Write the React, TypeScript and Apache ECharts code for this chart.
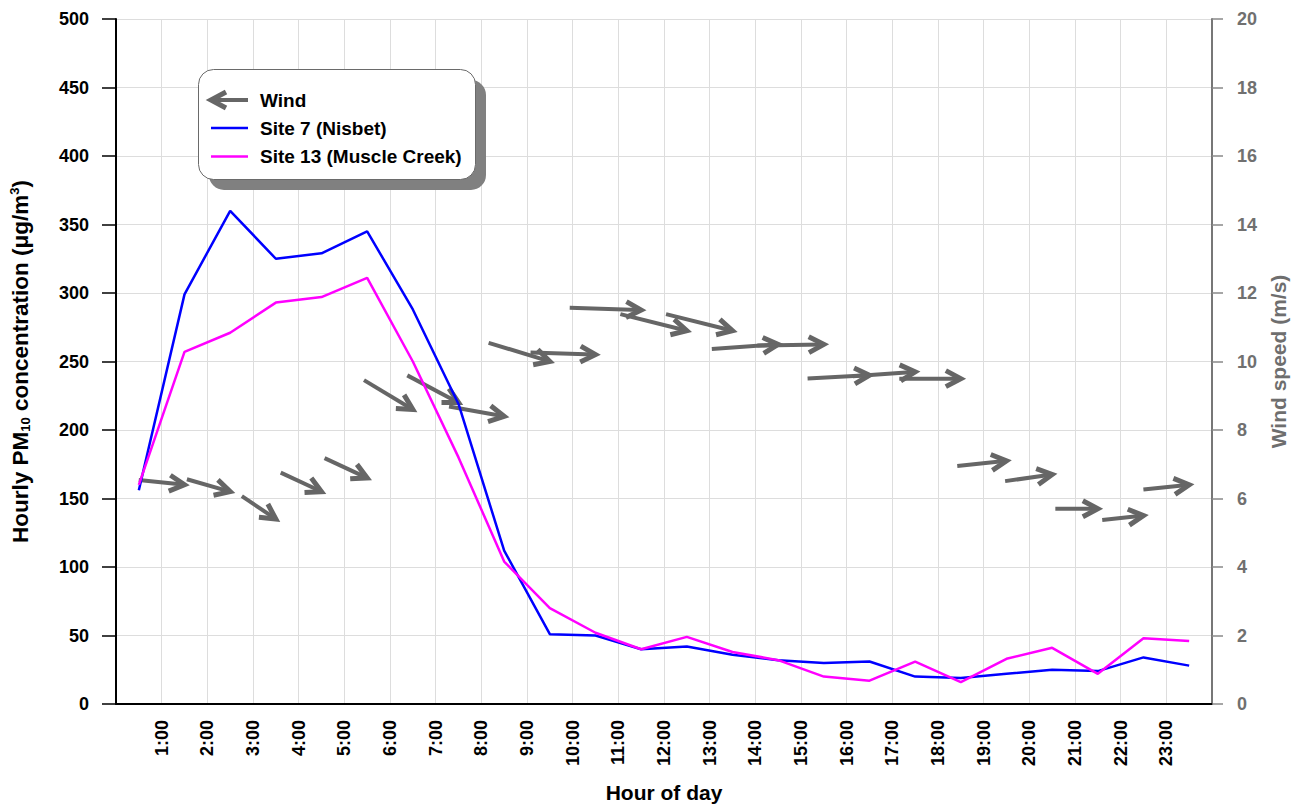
import React, { useEffect, useRef } from "react";
import * as echarts from "echarts";

// Hour positions (mid-hour) for the hourly averages
const hourMid = [
  0.5, 1.5, 2.5, 3.5, 4.5, 5.5, 6.5, 7.5, 8.5, 9.5, 10.5, 11.5,
  12.5, 13.5, 14.5, 15.5, 16.5, 17.5, 18.5, 19.5, 20.5, 21.5, 22.5, 23.5,
];

// Hourly PM10 (µg/m³)
const site7Nisbet = [
  156, 299, 360, 325, 329, 345, 288, 219, 112, 51, 50, 40,
  42, 36, 32, 30, 31, 20, 19, 22, 25, 24, 34, 28,
];
const site13MuscleCreek = [
  160, 257, 271, 293, 297, 311, 250, 180, 104, 70, 52, 40,
  49, 38, 32, 20, 17, 31, 16, 33, 41, 22, 48, 46,
];

// Wind observations: hour position, speed (m/s), direction wind blows from (deg)
const windHour = [
  1.5, 2.5, 3.5, 4.5, 5.5, 6.5, 7.5, 8.5, 9.5, 10.5, 11.5, 12.5,
  13.5, 14.5, 15.5, 16.5, 17.5, 18.5, 19.5, 20.5, 21.5, 22.5, 23.5,
];
const windSpeed = [
  6.4, 6.2, 5.4, 6.2, 6.6, 8.6, 8.8, 8.4, 10.0, 10.2, 11.5, 10.9,
  10.9, 10.5, 10.5, 9.6, 9.7, 9.5, 7.1, 6.7, 5.7, 5.5, 6.4,
];
const windFrom = [
  276, 286, 304, 295, 295, 301, 298, 280, 287, 272, 272, 284,
  284, 266, 269, 267, 266, 270, 264, 262, 270, 264, 264,
];

const hourTicks = [
  "1:00", "2:00", "3:00", "4:00", "5:00", "6:00", "7:00", "8:00", "9:00",
  "10:00", "11:00", "12:00", "13:00", "14:00", "15:00", "16:00", "17:00",
  "18:00", "19:00", "20:00", "21:00", "22:00", "23:00",
];

const legendLabels = ["Wind", "Site 7 (Nisbet)", "Site 13 (Muscle Creek)"];

const FONT = '"Liberation Sans", Arial, Helvetica, sans-serif';
const ARROW = "#666666";
const BLUE = "#0000ff";
const MAGENTA = "#ff00ff";

// Wind vector: tip sits at (hour, speed); shaft length grows with speed
function windArrow(params: any, api: any) {
  const speed = api.value(1);
  const from = api.value(2);
  const tip = api.coord([api.value(0), speed]);
  const heading = ((from - 180) * Math.PI) / 180;
  const ux = Math.sin(heading);
  const uy = -Math.cos(heading);
  const len = 14 + 5 * speed;
  const tx = tip[0];
  const ty = tip[1];
  const sx = tx - ux * len;
  const sy = ty - uy * len;
  const hl = 17;
  const ha = (28 * Math.PI) / 180;
  const bx = -ux;
  const by = -uy;
  const b1 = [tx + hl * (bx * Math.cos(ha) - by * Math.sin(ha)), ty + hl * (bx * Math.sin(ha) + by * Math.cos(ha))];
  const b2 = [tx + hl * (bx * Math.cos(-ha) - by * Math.sin(-ha)), ty + hl * (bx * Math.sin(-ha) + by * Math.cos(-ha))];
  return {
    type: "group",
    children: [
      {
        type: "line",
        shape: { x1: sx, y1: sy, x2: tx - ux * 2, y2: ty - uy * 2 },
        style: { stroke: ARROW, lineWidth: 4 },
      },
      {
        type: "polyline",
        shape: { points: [b1, [tx, ty], b2] },
        style: { stroke: ARROW, lineWidth: 5, fill: "none", lineJoin: "miter" },
      },
    ],
  };
}

function buildOption() {
  const blueData = hourMid.map((h, i) => [h, site7Nisbet[i]]);
  const magentaData = hourMid.map((h, i) => [h, site13MuscleCreek[i]]);
  const windData = windHour.map((h, i) => [h, windSpeed[i], windFrom[i]]);

  const rowY = [100, 128, 156.5];
  const legendText = (id: string, i: number) => ({
    type: "text",
    id,
    x: 260,
    y: rowY[i],
    z: 103,
    style: {
      text: legendLabels[i],
      fill: "#000000",
      fontSize: 19,
      fontWeight: "bold",
      fontFamily: FONT,
      verticalAlign: "middle",
      align: "left",
    },
  });

  return {
    animation: false,
    backgroundColor: "#ffffff",
    textStyle: { fontFamily: FONT },
    grid: { left: 116, right: 89, top: 19, bottom: 104, containLabel: false },
    xAxis: {
      type: "value",
      min: 0,
      max: 24,
      interval: 1,
      name: "Hour of day",
      nameLocation: "middle",
      nameGap: 78,
      nameTextStyle: { fontSize: 21, fontWeight: "bold", color: "#000", fontFamily: FONT },
      axisLine: { lineStyle: { color: "#000", width: 2 } },
      axisTick: { show: false },
      axisLabel: {
        rotate: 90,
        margin: 16,
        fontSize: 18,
        fontWeight: "bold",
        color: "#000",
        fontFamily: FONT,
        formatter: (v: number) => (v >= 1 && v <= hourTicks.length ? hourTicks[v - 1] : ""),
      },
      splitLine: { show: true, lineStyle: { color: "#dddddd", width: 1 } },
    },
    yAxis: [
      {
        type: "value",
        min: 0,
        max: 500,
        interval: 50,
        position: "left",
        name: "Hourly PM{sub|10} concentration (\u03bcg/m{sup|3})",
        nameLocation: "middle",
        nameGap: 84,
        nameTextStyle: {
          fontSize: 22.5,
          fontWeight: "bold",
          color: "#000",
          fontFamily: FONT,
          rich: {
            sub: { fontSize: 13, fontWeight: "bold", color: "#000", fontFamily: FONT, verticalAlign: "bottom", lineHeight: 24 },
            sup: { fontSize: 13, fontWeight: "bold", color: "#000", fontFamily: FONT, verticalAlign: "top", lineHeight: 22 },
          },
        },
        axisLine: { show: true, lineStyle: { color: "#000", width: 2 } },
        axisTick: { show: true, length: 14, lineStyle: { color: "#000", width: 1.5 } },
        axisLabel: { margin: 27, fontSize: 18, fontWeight: "bold", color: "#000", fontFamily: FONT },
        splitLine: { show: true, lineStyle: { color: "#dddddd", width: 1 } },
      },
      {
        type: "value",
        min: 0,
        max: 20,
        interval: 2,
        position: "right",
        name: "Wind speed (m/s)",
        nameLocation: "middle",
        nameGap: 47,
        nameTextStyle: { fontSize: 21, fontWeight: "bold", color: "#6e6e6e", fontFamily: FONT },
        axisLine: { show: true, lineStyle: { color: "#777777", width: 2 } },
        axisTick: { show: true, length: 11, lineStyle: { color: "#888888", width: 1.5 } },
        axisLabel: { margin: 25, fontSize: 18, fontWeight: "bold", color: "#707070", fontFamily: FONT },
        splitLine: { show: false },
      },
    ],
    series: [
      {
        name: "Wind",
        type: "custom",
        coordinateSystem: "cartesian2d",
        xAxisIndex: 0,
        yAxisIndex: 1,
        data: windData,
        encode: { x: 0, y: 1 },
        renderItem: windArrow,
        clip: false,
        z: 2,
      },
      {
        name: "Site 7 (Nisbet)",
        type: "line",
        yAxisIndex: 0,
        data: blueData,
        symbol: "none",
        lineStyle: { color: BLUE, width: 2.5 },
        itemStyle: { color: BLUE },
        z: 3,
      },
      {
        name: "Site 13 (Muscle Creek)",
        type: "line",
        yAxisIndex: 0,
        data: magentaData,
        symbol: "none",
        lineStyle: { color: MAGENTA, width: 2.5 },
        itemStyle: { color: MAGENTA },
        z: 4,
      },
    ],
    graphic: {
      elements: [
        {
          type: "rect",
          id: "legend-shadow",
          z: 100,
          shape: { x: 209, y: 80, width: 277, height: 110, r: 15 },
          style: { fill: "#808080" },
        },
        {
          type: "rect",
          id: "legend-box",
          z: 101,
          shape: { x: 198.5, y: 69.5, width: 277, height: 110, r: 15 },
          style: { fill: "#ffffff", stroke: "#6a6a6a", lineWidth: 1 },
        },
        {
          type: "line",
          id: "legend-wind-shaft",
          z: 102,
          shape: { x1: 214, y1: rowY[0], x2: 248, y2: rowY[0] },
          style: { stroke: ARROW, lineWidth: 4 },
        },
        {
          type: "polyline",
          id: "legend-wind-head",
          z: 102,
          shape: { points: [[226, rowY[0] - 8], [211, rowY[0]], [226, rowY[0] + 8]] },
          style: { stroke: ARROW, lineWidth: 5, fill: "none" },
        },
        {
          type: "rect",
          id: "legend-site7-line",
          z: 102,
          shape: { x: 211, y: rowY[1] - 1.25, width: 37, height: 2.5 },
          style: { fill: BLUE },
        },
        {
          type: "rect",
          id: "legend-site13-line",
          z: 102,
          shape: { x: 211, y: rowY[2] - 1.25, width: 37, height: 2.5 },
          style: { fill: MAGENTA },
        },
        legendText("legend-wind-text", 0),
        legendText("legend-site7-text", 1),
        legendText("legend-site13-text", 2),
      ],
    },
  };
}

export default function App() {
  const ref = useRef<HTMLDivElement>(null);
  useEffect(() => {
    if (!ref.current) return;
    const chart = echarts.init(ref.current, null, { renderer: "svg" });
    chart.setOption(buildOption() as any);
    return () => chart.dispose();
  }, []);
  return (
    <div
      ref={ref}
      style={{ position: "fixed", left: 0, top: 0, width: 1301, height: 808, background: "#fff" }}
    />
  );
}
